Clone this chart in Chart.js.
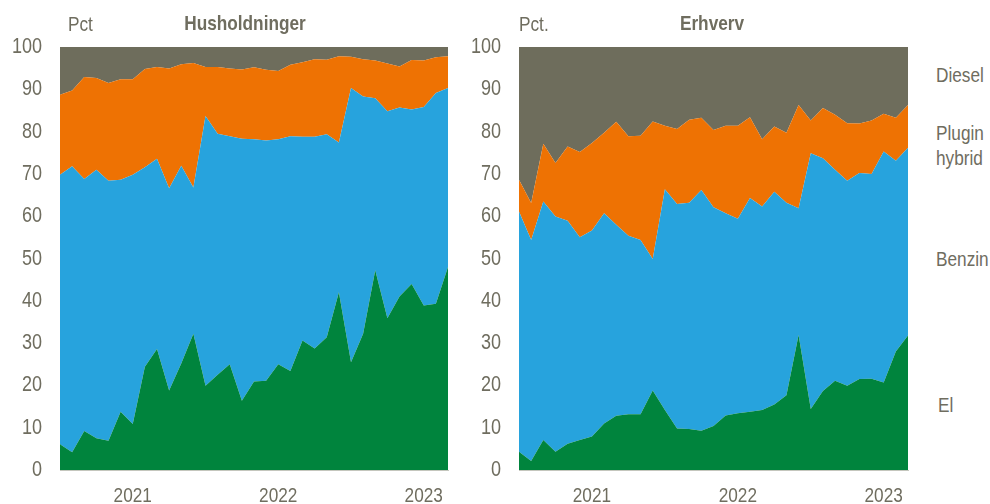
<!DOCTYPE html>
<html>
<head>
<meta charset="utf-8">
<script src="https://cdn.jsdelivr.net/npm/chart.js@4.4.0/dist/chart.umd.min.js"></script>
<style>
  html, body { margin: 0; padding: 0; background: #fff; }
  #wrap { position: relative; width: 990px; height: 504px; overflow: hidden;
          font-family: "Liberation Sans", Arial, sans-serif; color: #6f6d5f; }
  canvas { position: absolute; top: 0; }
  .txt { position: absolute; font-size: 21px; line-height: 25px; white-space: nowrap;
         transform: scaleX(0.82); transform-origin: 0 0; }
  .ttl { font-weight: bold; transform: translateX(-50%) scaleX(0.82); transform-origin: 50% 0; }
</style>
</head>
<body>
<div id="wrap">
  <canvas id="hhChart" width="460" height="504" style="left:0"></canvas>
  <canvas id="erChart" width="460" height="504" style="left:459px"></canvas>
  <span class="txt" style="left:68px; top:11px">Pct</span>
  <span class="txt ttl" style="left:245px; top:10px">Husholdninger</span>
  <span class="txt" style="left:519px; top:11px">Pct.</span>
  <span class="txt ttl" style="left:712px; top:10px">Erhverv</span>
  <span class="txt" style="left:936px; top:62px">Diesel</span>
  <span class="txt" style="left:936px; top:120px">Plugin<br>hybrid</span>
  <span class="txt" style="left:936px; top:246px">Benzin</span>
  <span class="txt" style="left:938px; top:392px">El</span>
</div>
<script>
(() => {
  "use strict";

  const TEXT = "#6f6d5f";
  const AXIS = "#c4c6bd";
  const FONT = "'Liberation Sans', Arial, sans-serif";
  const NARROW = 0.82; // the original uses a narrow face

  // monthly, Jul 2020 - Mar 2023
  const months = [
    "2020-07", "2020-08", "2020-09", "2020-10", "2020-11", "2020-12",
    "2021-01", "2021-02", "2021-03", "2021-04", "2021-05", "2021-06",
    "2021-07", "2021-08", "2021-09", "2021-10", "2021-11", "2021-12",
    "2022-01", "2022-02", "2022-03", "2022-04", "2022-05", "2022-06",
    "2022-07", "2022-08", "2022-09", "2022-10", "2022-11", "2022-12",
    "2023-01", "2023-02", "2023-03"
  ];
  const yearTicks = ["2021", "2022", "2023"];

  const seriesNames = ["El", "Benzin", "Plugin hybrid", "Diesel"];
  const seriesColours = ["#00843d", "#27a3dd", "#ee7203", "#6e6d5c"];

  // Husholdninger, pct. of new cars
  const hhEl = [6.1, 4.2, 9.2, 7.5, 6.9, 13.8, 10.9, 24.4, 28.6, 18.8, 25.2, 32.2, 19.9, 22.5, 25.0, 16.4, 20.9,
    21.1, 25.0, 23.4, 30.6, 28.7, 31.4, 42.0, 25.5, 32.2, 47.2, 35.9, 41.0, 44.0, 38.9, 39.3, 48.0];
  const hhBenzin = [63.7, 67.6, 59.6, 63.5, 61.5, 54.8, 58.9, 47.2, 45.0, 47.8, 46.7, 34.6, 63.8, 57.0, 53.9, 61.9, 57.3,
    56.8, 53.2, 55.5, 48.2, 50.1, 48.0, 35.4, 64.8, 56.1, 40.7, 48.9, 44.7, 41.2, 46.9, 49.8, 42.3];
  const hhPlugin = [18.9, 17.9, 24.1, 21.7, 23.1, 23.8, 22.6, 23.2, 21.7, 28.3, 24.0, 29.4, 11.6, 15.8, 16.0, 16.4, 17.0,
    16.7, 16.1, 16.9, 17.6, 18.3, 17.6, 20.4, 7.4, 8.8, 8.9, 11.3, 9.7, 11.7, 11.0, 8.5, 7.5];
  const hhDiesel = [11.3, 10.3, 7.1, 7.3, 8.5, 7.6, 7.6, 5.2, 4.7, 5.1, 4.1, 3.8, 4.7, 4.7, 5.1, 5.3, 4.8,
    5.4, 5.7, 4.2, 3.6, 2.9, 3.0, 2.2, 2.3, 2.9, 3.2, 3.9, 4.6, 3.1, 3.2, 2.4, 2.2];

  // Erhverv
  const erEl = [4.3, 2.1, 7.1, 4.3, 6.2, 7.1, 7.9, 11.0, 12.8, 13.2, 13.2, 18.8, 14.2, 9.8, 9.7, 9.3, 10.4,
    12.9, 13.4, 13.8, 14.2, 15.5, 17.7, 31.9, 14.4, 18.7, 21.1, 19.9, 21.5, 21.6, 20.7, 28.0, 31.8];
  const erBenzin = [56.8, 52.3, 56.4, 55.6, 52.7, 47.9, 48.7, 49.7, 45.2, 42.2, 41.2, 31.1, 52.2, 53.1, 53.5, 56.9, 51.7,
    47.8, 46.0, 50.5, 48.1, 50.3, 45.5, 30.0, 60.5, 55.0, 49.9, 48.5, 48.7, 48.4, 54.6, 45.1, 44.4];
  const erPlugin = [7.5, 8.7, 13.6, 12.7, 17.6, 20.2, 20.7, 19.0, 24.3, 23.5, 24.6, 32.5, 15.0, 17.7, 19.6, 17.1, 18.3,
    20.7, 22.0, 19.1, 15.9, 15.4, 16.5, 24.4, 7.7, 11.9, 13.0, 13.6, 11.7, 12.6, 8.9, 10.2, 10.1];
  const erDiesel = [31.4, 36.9, 22.9, 27.4, 23.5, 24.8, 22.7, 20.3, 17.7, 21.1, 21.0, 17.6, 18.6, 19.4, 17.2, 16.7, 19.6,
    18.6, 18.6, 16.6, 21.8, 18.8, 20.3, 13.7, 17.4, 14.4, 16.0, 18.0, 18.1, 17.4, 15.8, 16.7, 13.7];

  function yearLabel(index) {
    const m = months[index];
    if (!m || !m.endsWith("-01")) return "";
    const y = m.slice(0, 4);
    return yearTicks.includes(y) ? y : "";
  }

  // tick labels drawn squeezed, placed via the chart's own scales
  const narrowTicks = {
    id: "narrowTicks",
    afterDraw(chart) {
      const { ctx, scales } = chart;
      const put = (text, x, y, align, size) => {
        ctx.save();
        ctx.translate(x, y);
        ctx.scale(NARROW, 1);
        ctx.font = `${size}px ${FONT}`;
        ctx.fillStyle = TEXT;
        ctx.textAlign = align;
        ctx.textBaseline = "middle";
        ctx.fillText(text, 0, 0);
        ctx.restore();
      };
      const ys = scales.y;
      ys.ticks.forEach((t) => put(String(t.value), ys.right - 18, ys.getPixelForValue(t.value), "right", 22));
      const xs = scales.x;
      months.forEach((m, i) => {
        const label = yearLabel(i);
        if (label) put(label, xs.getPixelForValue(i), xs.top + 26, "center", 21);
      });
    }
  };

  function buildDatasets(series) {
    return series.map((values, i) => ({
      label: seriesNames[i],
      data: values,
      backgroundColor: seriesColours[i],
      borderColor: seriesColours[i],
      borderWidth: 0,
      pointRadius: 0,
      tension: 0,
      fill: i === 0 ? "origin" : "-1"
    }));
  }

  function drawPanel(canvasId, series, rightPad) {
    const ctx = document.getElementById(canvasId).getContext("2d");
    return new Chart(ctx, {
      type: "line",
      data: { labels: months, datasets: buildDatasets(series) },
      options: {
        responsive: false,
        animation: false,
        devicePixelRatio: 1,
        layout: { padding: { top: 47, right: rightPad, left: 0, bottom: 0 } },
        plugins: { legend: { display: false }, tooltip: { enabled: false } },
        scales: {
          x: {
            type: "category",
            offset: false,
            grid: { display: false, drawTicks: false },
            border: { color: AXIS, width: 1 },
            afterFit(scale) { scale.height = 34; },
            ticks: { display: false, autoSkip: false }
          },
          y: {
            stacked: true,
            min: 0,
            max: 100,
            grid: { display: false, drawTicks: false },
            border: { color: AXIS, width: 1 },
            afterFit(scale) { scale.width = 60; },
            ticks: { display: false, stepSize: 10 }
          }
        }
      },
      plugins: [narrowTicks]
    });
  }

  drawPanel("hhChart", [hhEl, hhBenzin, hhPlugin, hhDiesel], 12);
  drawPanel("erChart", [erEl, erBenzin, erPlugin, erDiesel], 11);
})();
</script>
</body>
</html>
